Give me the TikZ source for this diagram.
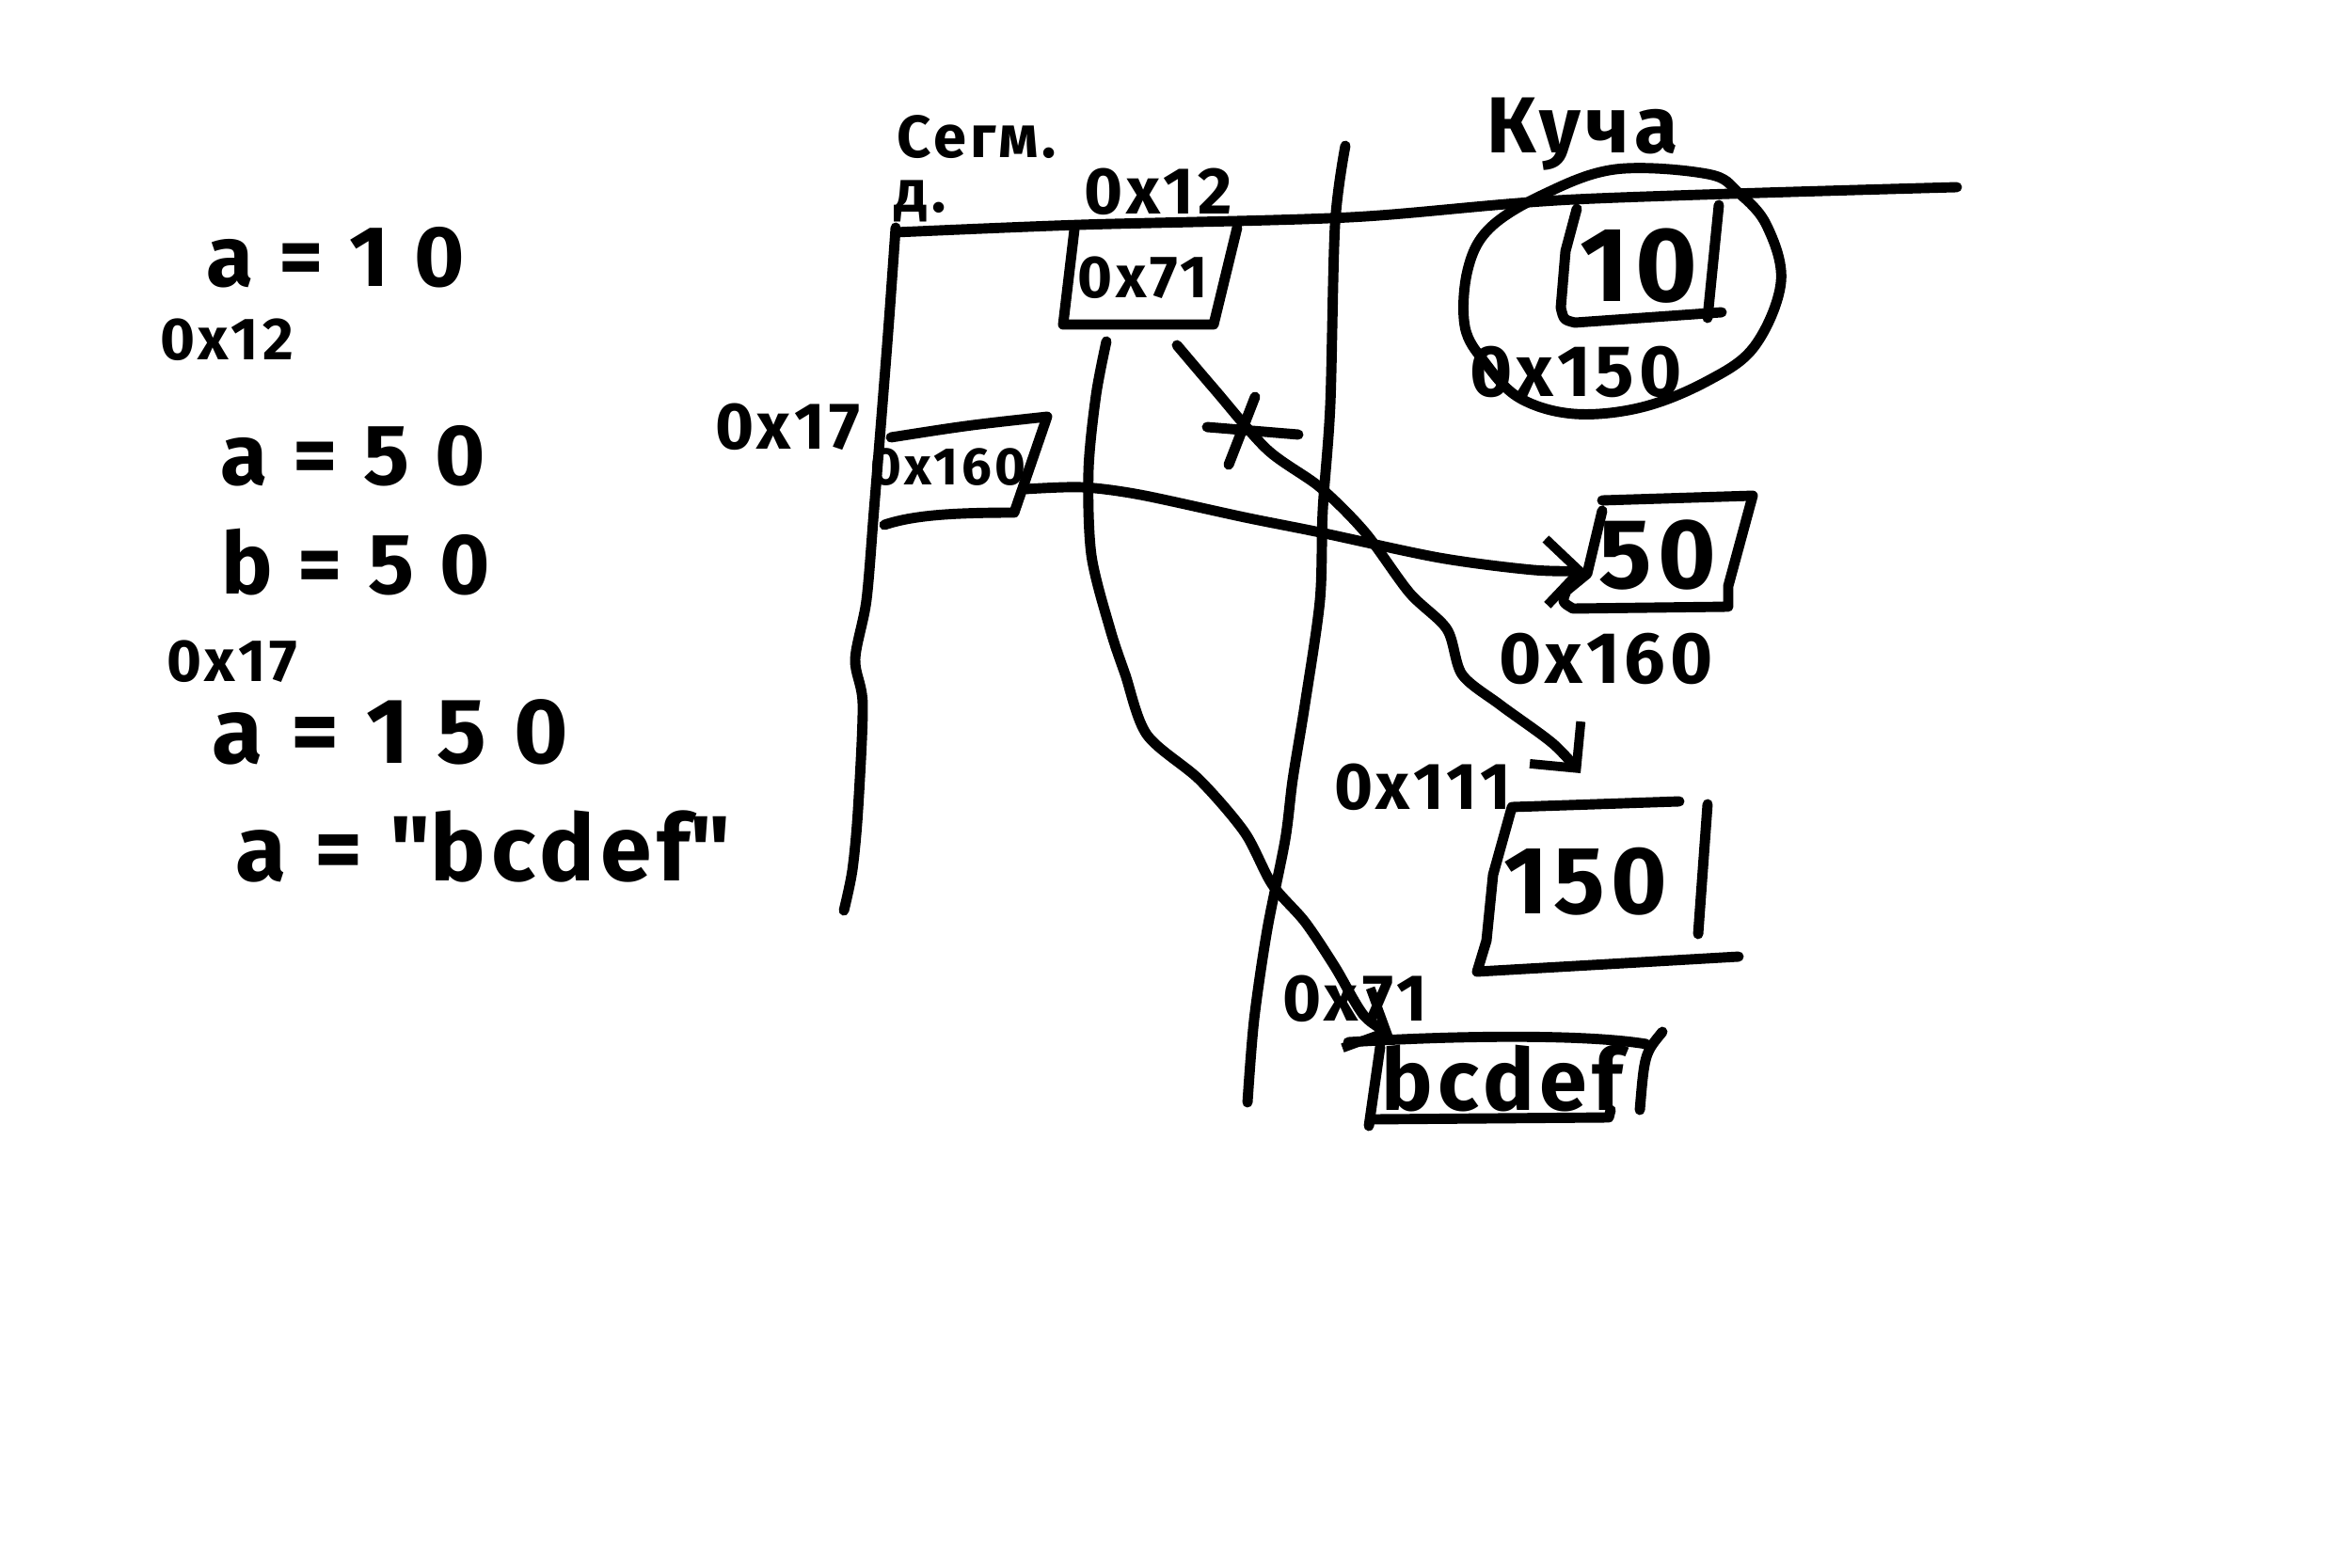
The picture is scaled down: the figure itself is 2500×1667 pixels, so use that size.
\documentclass[tikz,border=0pt]{standalone}
\usepackage{fontspec}
\setmainfont{Fira Sans}[LetterSpace=6]
\usetikzlibrary{arrows.meta}
\begin{document}
\begin{tikzpicture}[x=0.01cm,y=-0.01cm,
  pen/.style={line width=3.1pt,line cap=round,line join=round},
  hw/.style={inner sep=0pt,font=\fontsize{#1}{#1}\selectfont\bfseries},
  tipb/.style={-{Straight Barb[length=10pt,width=20pt,line width=2.8pt]}}
]
\useasboundingbox[fill=white] (0,0) rectangle (2500,1667);

% ---- left column of statements
\node[hw=26] (s1) at (357,274) {a = 1 0};
\node[hw=18] (s2) at (241,361) {0x12};
\node[hw=26] (s3) at (375,485) {a = 5 0};
\node[hw=26] (s4) at (378,598) {b = 5 0};
\node[hw=18] (s5) at (247,703) {0x17};
\node[hw=28] (s6) at (415,778) {a = 1 5 0};
\node[hw=28] (s7) at (514,900) {a = \textquotedbl bcdef\textquotedbl};

% ---- headings
\node[hw=18] (hseg) at (1038,146) {Сегм.};
\node[hw=18] (hd) at (978,214) {д.};
\node[hw=24] (hheap) at (1682,143) {Куча};

% ---- frame lines
\draw[pen] plot[smooth,tension=0.5] coordinates {(952,242) (945,340) (938,430) (929,542) (921,638) (909,701) (917,749) (912,861) (906,925) (897,968)};
\draw[pen] plot[smooth,tension=0.5] coordinates {(952,247) (1148,239) (1435,231) (1674,212) (2080,199)};
\draw[pen] plot[smooth,tension=0.5] coordinates {(1430,155) (1419,239) (1414,430) (1406,542) (1403,638) (1387,749) (1374,829) (1366,893) (1347,988) (1333,1084) (1326,1172)};

% ---- variable box at 0x12
\node[hw=20] (a12) at (1231,204) {0x12};
\draw[pen] (1142,244) -- (1130,345) -- (1290,345) -- (1315,242);
\node[hw=18] (v71) at (1215,295) {0x71};

% ---- variable box at 0x17
\node[hw=20] (a17) at (837,454) {0x17};
\draw[pen] (947,465) .. controls (1030,452) .. (1113,443) -- (1078,545) .. controls (1010,545) and (970,548) .. (940,558);
\node[hw=16] (v160) at (1008,497) {0x160};

% ---- heap object 10 at 0x150
\draw[pen] plot[smooth cycle,tension=0.6] coordinates {(1815,185) (1717,180) (1640,207) (1583,243) (1560,287) (1557,347) (1578,385) (1615,423) (1673,440) (1745,433) (1815,405) (1865,368) (1893,300) (1878,240) (1848,205)};
\draw[pen] (1676,222) -- (1664,267) -- (1659,327) .. controls (1662,340) .. (1674,343) -- (1830,332);
\draw[pen] (1827,218) -- (1815,338);
\node[hw=32] (v10) at (1742,283) {10};
\node[hw=22] (a150) at (1675,395) {0x150};

% ---- heap object 50 at 0x160
\draw[pen] (1703,532) -- (1863,527) -- (1837,623) -- (1837,645) -- (1672,647) .. controls (1660,640) .. (1665,628) -- (1687,610) -- (1703,543);
\node[hw=30] (v50) at (1762,590) {50};
\node[hw=22] (a160) at (1707,700) {0x160};

% ---- heap object 150 at 0x111
\node[hw=20] (a111) at (1512,837) {0x111};
\draw[pen] (1785,852) -- (1607,858) -- (1587,930) -- (1580,1000) -- (1570,1033) -- (1848,1017);
\draw[pen] (1815,855) -- (1805,993);
\node[hw=29] (v150) at (1685,937) {150};

% ---- heap object bcdef at 0x71
\node[hw=20] (a71) at (1440,1062) {0x71};
\draw[pen] (1433,1108) .. controls (1560,1100) and (1690,1100) .. (1750,1110);
\draw[pen] (1467,1113) -- (1455,1197);
\draw[pen] (1460,1190) -- (1710,1188) -- (1712,1180);
\draw[pen] (1767,1097) .. controls (1748,1120) .. (1743,1180);
\node[hw=26] (vb) at (1597,1147) {bcdef};

% ---- connectors
\coordinate (p160) at (1090,520);
\coordinate (e50) at (1686,607);
\draw[pen,tipb] plot[smooth,tension=0.5] coordinates {(p160) (1150,518) (1212,526) (1323,550) (1403,566) (1530,593) (1630,606) (e50)};

\coordinate (p71a) at (1251,367);
\coordinate (e150) at (1680,822);
\draw[pen,tipb] plot[smooth,tension=0.5] coordinates {(p71a) (1291,414) (1347,478) (1403,518) (1451,566) (1498,630) (1538,669) (1554,717) (1594,749) (1650,790) (e150)};

\coordinate (p71b) at (1176,363);
\coordinate (eb) at (1480,1100);
\draw[pen,tipb] plot[smooth,tension=0.5] coordinates {(p71b) (1165,420) (1157,500) (1160,590) (1180,669) (1196,717) (1219,781) (1275,829) (1323,885) (1352,940) (1387,980) (1419,1028) (1450,1080) (eb)};

% cross-out mark
\draw[pen] (1283,454) -- (1380,462);
\draw[pen] (1334,422) -- (1306,494);
\end{tikzpicture}
\end{document}
